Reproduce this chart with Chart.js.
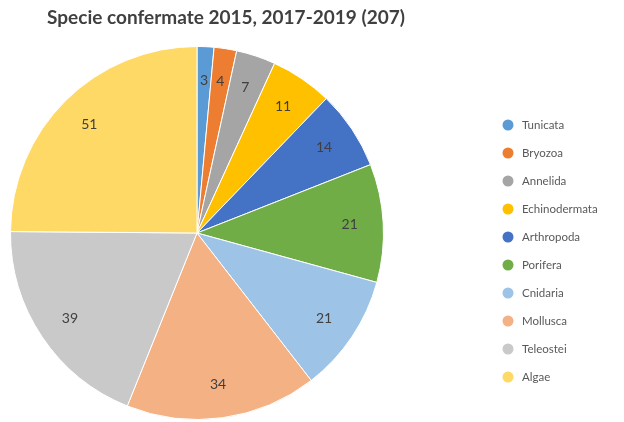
<!DOCTYPE html>
<html>
<head>
<meta charset="utf-8">
<script src="https://cdn.jsdelivr.net/npm/chart.js@4.4.0/dist/chart.umd.min.js"></script>
<style>
  html, body { margin: 0; padding: 0; background: #fff; overflow: hidden; }
  #wrap { width: 624px; height: 422px; position: relative; }
</style>
</head>
<body>
<div id="wrap"><canvas id="grafico"></canvas></div>
<script>
const titolo = 'Specie confermate 2015, 2017-2019 (207)';
const categorie = ['Tunicata', 'Bryozoa', 'Annelida', 'Echinodermata', 'Arthropoda',
                   'Porifera', 'Cnidaria', 'Mollusca', 'Teleostei', 'Algae'];
const valori = [3, 4, 7, 11, 14, 21, 21, 34, 39, 51];
const colori = ['#5b9bd5', '#ed7d31', '#a5a5a5', '#ffc000', '#4472c4',
                '#70ad47', '#9dc3e6', '#f4b183', '#c9c9c9', '#ffd966'];

// title, value labels and legend drawn by hand so they sit where the original has them
const decor = {
    id: 'decor',
    afterDatasetsDraw(chart) {
        const ctx = chart.ctx;
        const meta = chart.getDatasetMeta(0);
        ctx.save();
        ctx.textAlign = 'center';
        ctx.textBaseline = 'middle';
        ctx.fillStyle = '#404040';
        ctx.font = '14px Lato';
        meta.data.forEach((arc, i) => {
            const a = (arc.startAngle + arc.endAngle) / 2;
            const r = arc.outerRadius * 0.82;
            ctx.fillText(chart.data.datasets[0].data[i], arc.x + Math.cos(a) * r, arc.y + Math.sin(a) * r);
        });

        ctx.font = 'bold 19px Lato';
        ctx.fillStyle = '#404040';
        ctx.fillText(titolo, 226, 18);

        ctx.textAlign = 'left';
        ctx.font = '11.5px Lato';
        chart.data.labels.forEach((lbl, i) => {
            const y = 125 + i * 28;
            ctx.beginPath();
            ctx.arc(508, y, 5.5, 0, Math.PI * 2);
            ctx.fillStyle = colori[i];
            ctx.fill();
            ctx.fillStyle = '#595959';
            ctx.fillText(lbl, 522, y);
        });
        ctx.restore();
    }
};

const grafico = document.getElementById('grafico').getContext('2d');
const myChart = new Chart(grafico, {
    type: 'pie',
    data: {
        labels: categorie,
        datasets: [{
            data: valori,
            backgroundColor: colori,
            borderColor: '#ffffff',
            borderWidth: 1
        }]
    },
    options: {
        responsive: true,
        maintainAspectRatio: false,
        animation: false,
        layout: { padding: { top: 46, left: 10, right: 240, bottom: 2 } },
        plugins: {
            legend: { display: false },
            title: { display: false },
            tooltip: { enabled: false }
        }
    },
    plugins: [decor]
});
</script>
</body>
</html>
